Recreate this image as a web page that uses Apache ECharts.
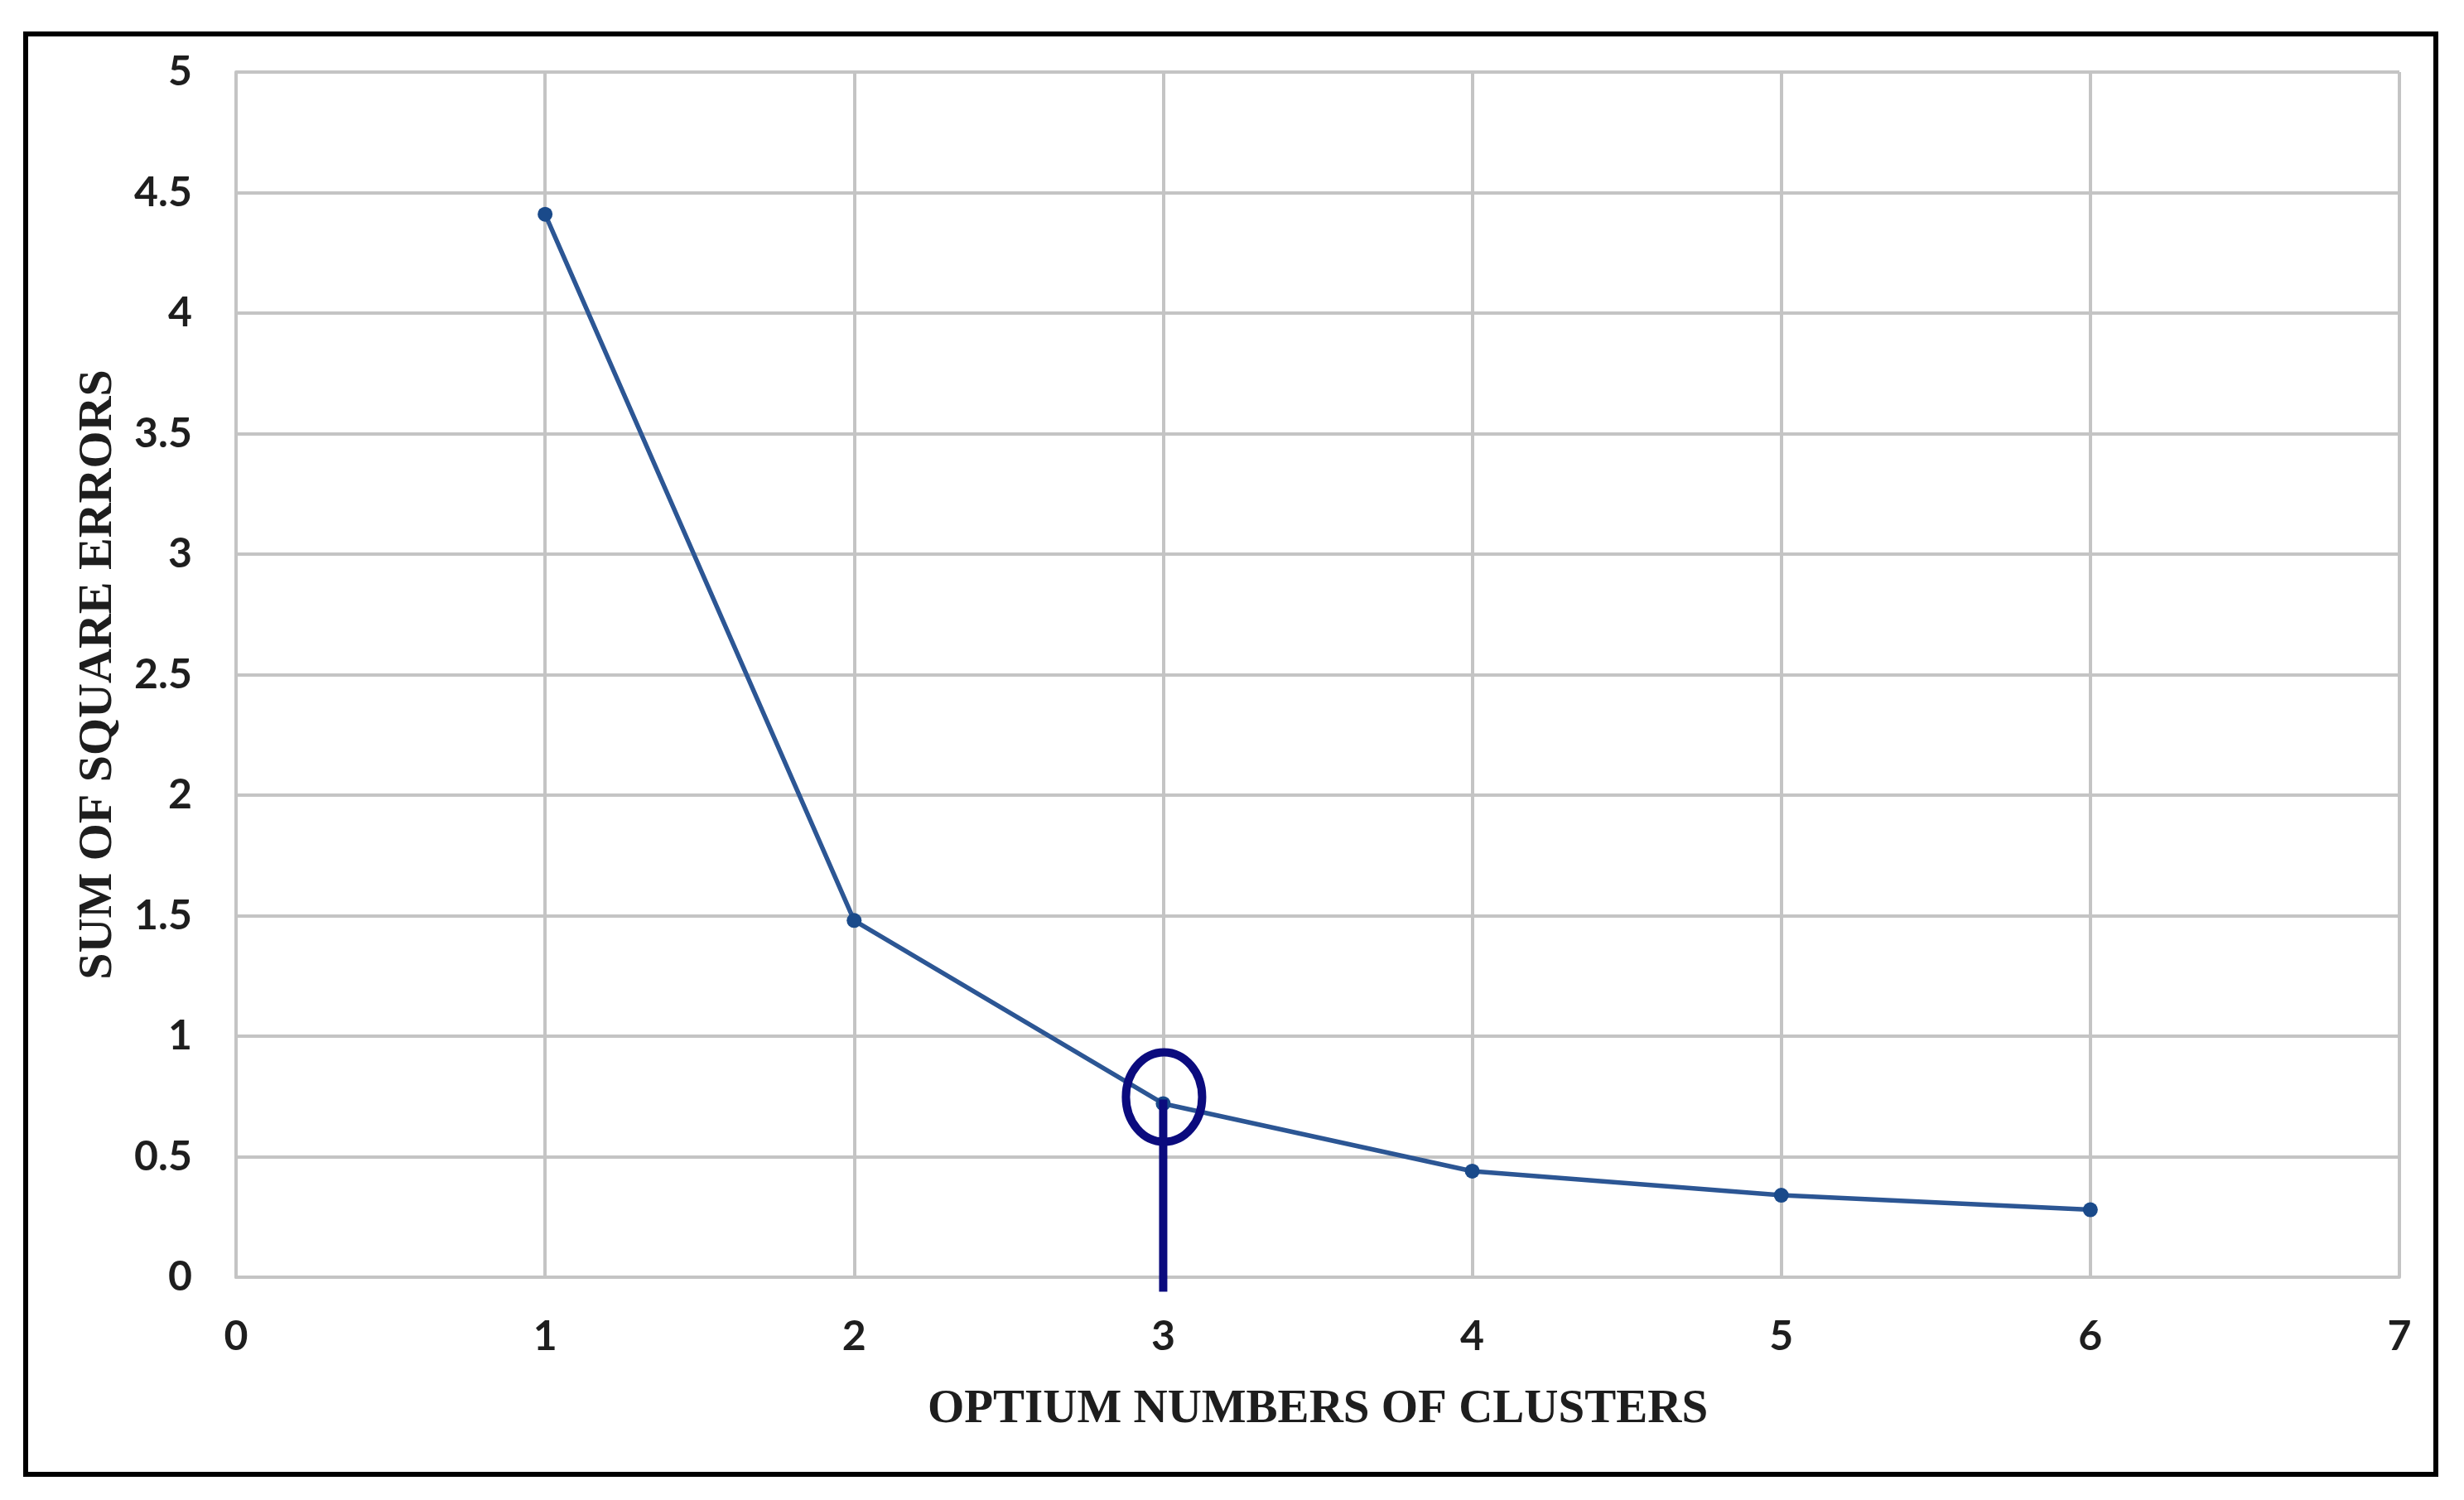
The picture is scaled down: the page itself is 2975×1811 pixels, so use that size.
<!DOCTYPE html>
<html><head><meta charset="utf-8">
<script src="https://cdn.jsdelivr.net/npm/echarts@6/dist/echarts.min.js"></script>
<style>html,body{margin:0;padding:0;background:#fff}#c{width:2975px;height:1811px}</style>
</head><body><div id="c"></div>
<script>
const clusters = [1, 2, 3, 4, 5, 6];
const sse = [4.41, 1.48, 0.72, 0.44, 0.34, 0.28];
const optimum = [[3, 0.72]];
const xTicks = {min: 0, max: 7, interval: 1};
const yTicks = {min: 0, max: 5, interval: 0.5};
const xName = 'OPTIUM NUMBERS OF CLUSTERS';
const yName = 'SUM OF SQUARE ERRORS';

const chart = echarts.init(document.getElementById('c'));
const gridColor = '#c4c4c4';
const labelStyle = {fontFamily: 'Lato', fontWeight: 'bold', fontSize: 50, color: '#1e1e1e'};
chart.setOption({
  backgroundColor: '#fff',
  animation: false,
  graphic: [{type: 'rect', shape: {x: 31, y: 41, width: 2910, height: 1739},
    style: {fill: 'none', stroke: '#000', lineWidth: 6}, z: 100}],
  grid: {left: 285, right: 78, top: 87, bottom: 269},
  xAxis: {type: 'value', min: xTicks.min, max: xTicks.max, interval: xTicks.interval,
    name: xName, nameLocation: 'middle', nameGap: 132,
    nameTextStyle: {fontFamily: 'Liberation Serif', fontWeight: 'bold', fontSize: 57, color: '#1e1e1e'},
    axisLine: {lineStyle: {color: gridColor, width: 4}}, axisTick: {show: false},
    axisLabel: Object.assign({margin: 47}, labelStyle),
    splitLine: {show: true, lineStyle: {color: gridColor, width: 4}}},
  yAxis: {type: 'value', min: yTicks.min, max: yTicks.max, interval: yTicks.interval,
    name: yName, nameLocation: 'middle', nameGap: 137,
    nameTextStyle: {fontFamily: 'Liberation Serif', fontWeight: 'bold', fontSize: 58, color: '#1e1e1e'},
    axisLine: {show: true, lineStyle: {color: gridColor, width: 4}}, axisTick: {show: false},
    axisLabel: Object.assign({margin: 53}, labelStyle),
    splitLine: {show: true, lineStyle: {color: gridColor, width: 4}}},
  series: [{
    type: 'line', data: clusters.map((c, i) => [c, sse[i]]),
    symbol: 'circle', symbolSize: 18,
    lineStyle: {color: '#2c5694', width: 5.5},
    itemStyle: {color: '#1a4a8a'}, z: 3
  }, {
    type: 'custom', data: optimum, clip: false, z: 5,
    renderItem: function (params, api) {
      const p = api.coord([api.value(0), api.value(1)]);
      const b = api.coord([api.value(0), -0.06]);
      return {type: 'group', children: [
        {type: 'ellipse', shape: {cx: p[0] + 1, cy: p[1] - 8, rx: 46, ry: 54},
          style: {fill: 'none', stroke: '#0b0b7e', lineWidth: 10}},
        {type: 'line', shape: {x1: p[0], y1: p[1] - 5, x2: b[0], y2: b[1]},
          style: {stroke: '#0b0b7e', lineWidth: 10}}
      ]};
    }
  }]
});
</script></body></html>
